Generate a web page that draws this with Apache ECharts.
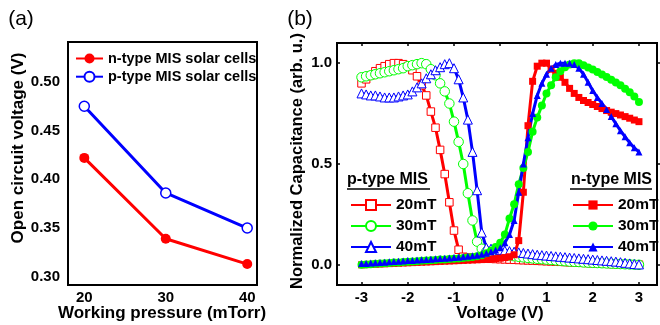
<!DOCTYPE html>
<html><head><meta charset="utf-8">
<script src="https://cdn.jsdelivr.net/npm/echarts@6/dist/echarts.min.js"></script>
<style>html,body{margin:0;padding:0;background:#fff}#c{width:660px;height:325px}</style>
</head><body><div id="c"></div>
<script>
// ---------- Panel (a) data ----------
const pressure = [20, 30, 40];
const vocN = [0.422, 0.339, 0.313];
const vocP = [0.475, 0.386, 0.350];
const pressureTicks = [20, 30, 40];
const vocTicks = [0.30, 0.35, 0.40, 0.45, 0.50];

// ---------- Panel (b) data ----------
const voltage = [-3.0,-2.9,-2.8,-2.7,-2.6,-2.5,-2.4,-2.3,-2.2,-2.1,
  -2.0,-1.9,-1.8,-1.7,-1.6,-1.5,-1.4,-1.3,-1.2,-1.1,
  -1.0,-0.9,-0.8,-0.7,-0.6,-0.5,-0.4,-0.3,-0.2,-0.1,
  0.0,0.1,0.2,0.3,0.4,0.5,0.6,0.7,0.8,0.9,
  1.0,1.1,1.2,1.3,1.4,1.5,1.6,1.7,1.8,1.9,
  2.0,2.1,2.2,2.3,2.4,2.5,2.6,2.7,2.8,2.9,3.0];
const voltageTicks = [-3, -2, -1, 0, 1, 2, 3];
const capTicks = [0, 0.5, 1.0];

const pType20 = [0.90,0.92,0.94,0.96,0.975,0.985,0.995,1.0,1.0,0.995,
  0.985,0.965,0.935,0.89,0.84,0.76,0.68,0.57,0.45,0.31,
  0.17,0.075,0.040,0.036,0.034,0.033,0.032,0.031,0.030,0.029,
  0.028,0.027,0.026,0.025,0.024,0.023,0.022,0.021,0.020,0.019,
  0.018,0.017,0.016,0.015,0.014,0.013,0.012,0.011,0.010,0.009,
  0.008,0.007,0.006,0.005,0.004,0.004,0.003,0.003,0.002,0.002,0.001];
const pType30 = [0.93,0.935,0.94,0.945,0.95,0.955,0.96,0.965,0.97,0.975,
  0.985,0.99,0.995,1.0,0.995,0.97,0.94,0.90,0.86,0.80,
  0.71,0.61,0.50,0.355,0.22,0.115,0.080,0.066,0.060,0.056,
  0.052,0.049,0.046,0.043,0.040,0.037,0.034,0.032,0.030,0.028,
  0.026,0.024,0.022,0.020,0.018,0.016,0.015,0.014,0.012,0.011,
  0.010,0.009,0.008,0.007,0.006,0.005,0.004,0.003,0.002,0.001,0.0];
const pType40 = [0.85,0.845,0.84,0.84,0.835,0.83,0.83,0.83,0.835,0.84,
  0.845,0.86,0.88,0.90,0.925,0.945,0.965,0.98,0.995,1.0,
  0.975,0.92,0.83,0.72,0.56,0.37,0.16,0.085,0.080,0.077,
  0.074,0.071,0.068,0.065,0.062,0.059,0.056,0.053,0.050,0.048,
  0.046,0.044,0.042,0.040,0.038,0.036,0.034,0.032,0.030,0.028,
  0.026,0.024,0.022,0.020,0.018,0.016,0.013,0.010,0.007,0.004,0.002];
const nType20 = [0.0,0.001,0.002,0.003,0.004,0.005,0.006,0.007,0.008,0.009,
  0.010,0.011,0.012,0.013,0.014,0.015,0.016,0.017,0.018,0.019,
  0.020,0.021,0.022,0.023,0.024,0.025,0.026,0.027,0.029,0.031,
  0.033,0.036,0.040,0.050,0.12,0.36,0.69,0.91,0.985,1.0,
  1.0,0.97,0.95,0.93,0.905,0.875,0.85,0.83,0.815,0.805,
  0.795,0.785,0.775,0.765,0.757,0.75,0.743,0.735,0.727,0.718,0.71];
const nType30 = [0.0,0.002,0.003,0.005,0.006,0.008,0.009,0.011,0.012,0.014,
  0.015,0.017,0.018,0.020,0.021,0.023,0.024,0.026,0.027,0.029,
  0.030,0.032,0.034,0.036,0.039,0.043,0.048,0.058,0.070,0.088,
  0.11,0.15,0.23,0.30,0.40,0.48,0.56,0.66,0.73,0.79,
  0.85,0.89,0.93,0.96,0.98,0.993,1.0,1.0,0.99,0.978,
  0.968,0.956,0.944,0.932,0.918,0.904,0.89,0.873,0.856,0.835,0.808];
const nType40 = [0.006,0.007,0.009,0.010,0.012,0.013,0.015,0.016,0.018,0.019,
  0.021,0.022,0.024,0.025,0.027,0.028,0.030,0.031,0.033,0.034,
  0.036,0.038,0.040,0.042,0.045,0.048,0.052,0.058,0.065,0.074,
  0.085,0.11,0.15,0.22,0.36,0.50,0.63,0.75,0.84,0.90,
  0.945,0.975,0.993,1.0,1.0,1.0,0.993,0.975,0.945,0.905,
  0.865,0.83,0.80,0.77,0.735,0.70,0.665,0.635,0.605,0.58,0.56];

const pLabels = ['p-type 20mT', 'p-type 30mT', 'p-type 40mT'];
const nLabels = ['n-type 20mT', 'n-type 30mT', 'n-type 40mT'];
const aLabels = ['n-type MIS solar cells', 'p-type MIS solar cells'];

function pairs(xs, ys) { return xs.map((x, i) => [x, ys[i]]); }

const FF = "'Liberation Sans', Arial, sans-serif";
const RED = '#ff0000', GREEN = '#00ff00', BLUE = '#0000ff';
const tickFont = {fontSize: 15, fontWeight: 'bold', color: '#000', fontFamily: FF};
const noLine = {show: false, onZero: false};

function openSeries(name, data, symbol, size, color) {
  return {type: 'line', name, xAxisIndex: 1, yAxisIndex: 1, data: pairs(voltage, data),
    symbol, symbolSize: size, showAllSymbol: true,
    lineStyle: {color, width: 3}, itemStyle: {color: '#fff', borderColor: color, borderWidth: 1}};
}
function filledSeries(name, data, symbol, size, color) {
  return {type: 'line', name, xAxisIndex: 1, yAxisIndex: 1, data: pairs(voltage, data),
    symbol, symbolSize: size, showAllSymbol: true,
    lineStyle: {color, width: 3}, itemStyle: {color, borderWidth: 0}};
}

const chart = echarts.init(document.getElementById('c'), null, {renderer: 'canvas'});
chart.setOption({
  animation: false,
  backgroundColor: '#fff',
  grid: [
    {left: 68, top: 42, width: 189, height: 243, show: true, borderColor: '#000', borderWidth: 2, containLabel: false},
    {left: 337, top: 43, width: 320, height: 242, show: true, borderColor: '#000', borderWidth: 2, containLabel: false}
  ],
  xAxis: [
    {gridIndex: 0, type: 'value', min: 18.0, max: 41.2,
      axisLine: noLine, splitLine: {show: false}, axisTick: {show: false},
      axisLabel: Object.assign({customValues: pressureTicks, margin: 5}, tickFont)},
    {gridIndex: 1, type: 'value', position: 'bottom', min: -3.53, max: 3.39,
      axisLine: noLine, splitLine: {show: false},
      axisTick: {show: true, inside: true, length: 3, customValues: voltageTicks, lineStyle: {color: '#000', width: 1.5}},
      axisLabel: Object.assign({customValues: voltageTicks, margin: 5}, tickFont)},
    {gridIndex: 1, type: 'value', position: 'top', min: -3.53, max: 3.39,
      axisLine: noLine, splitLine: {show: false},
      axisTick: {show: true, inside: true, length: 3, customValues: voltageTicks, lineStyle: {color: '#000', width: 1.5}},
      axisLabel: {show: false}}
  ],
  yAxis: [
    {gridIndex: 0, type: 'value', min: 0.2915, max: 0.541,
      axisLine: noLine, splitLine: {show: false}, axisTick: {show: false},
      axisLabel: Object.assign({customValues: vocTicks, margin: 8, formatter: v => v.toFixed(2)}, tickFont)},
    {gridIndex: 1, type: 'value', position: 'left', min: -0.1, max: 1.1,
      axisLine: noLine, splitLine: {show: false},
      axisTick: {show: true, inside: true, length: 3, customValues: capTicks, lineStyle: {color: '#000', width: 1.5}},
      axisLabel: Object.assign({customValues: capTicks, margin: 5, formatter: v => v.toFixed(1)}, tickFont)},
    {gridIndex: 1, type: 'value', position: 'right', min: -0.1, max: 1.1,
      axisLine: noLine, splitLine: {show: false},
      axisTick: {show: true, inside: false, length: 3, customValues: capTicks, lineStyle: {color: '#000', width: 1.5}},
      axisLabel: {show: false}}
  ],
  legend: [
    {orient: 'vertical', left: 70, top: 46, itemWidth: 27, itemHeight: 12.5, itemGap: 3.2,
      data: aLabels, textStyle: {fontSize: 14.5, fontWeight: 'bold', color: '#000', fontFamily: FF}},
    {orient: 'vertical', left: 345, top: 192, itemWidth: 40, itemHeight: 12.5, itemGap: 5,
      data: pLabels, formatter: n => n.replace('p-type ', ''),
      textStyle: {fontSize: 15.5, fontWeight: 'bold', color: '#000', fontFamily: FF}},
    {orient: 'vertical', left: 567, top: 192, itemWidth: 40, itemHeight: 11.5, itemGap: 5,
      data: nLabels, formatter: n => n.replace('n-type ', ''),
      textStyle: {fontSize: 15.5, fontWeight: 'bold', color: '#000', fontFamily: FF}}
  ],
  graphic: [
    {type: 'text', x: 21, y: 19, style: {text: '(a)', font: '21px ' + FF, fill: '#000', align: 'center', verticalAlign: 'middle'}},
    {type: 'text', x: 300, y: 19, style: {text: '(b)', font: '21px ' + FF, fill: '#000', align: 'center', verticalAlign: 'middle'}},
    {type: 'text', x: 18, y: 148, rotation: Math.PI / 2, style: {text: 'Open circuit voltage (V)', font: 'bold 17px ' + FF, fill: '#000', align: 'center', verticalAlign: 'middle'}},
    {type: 'text', x: 162, y: 313, style: {text: 'Working pressure (mTorr)', font: 'bold 17px ' + FF, fill: '#000', align: 'center', verticalAlign: 'middle'}},
    {type: 'text', x: 297, y: 161, rotation: Math.PI / 2, style: {text: 'Normalized Capacitance (arb. u.)', font: 'bold 16.5px ' + FF, fill: '#000', align: 'center', verticalAlign: 'middle'}},
    {type: 'text', x: 500, y: 313, style: {text: 'Voltage (V)', font: 'bold 17px ' + FF, fill: '#000', align: 'center', verticalAlign: 'middle'}},
    {type: 'text', x: 347, y: 180, style: {text: 'p-type MIS', font: 'bold 16px ' + FF, fill: '#000', align: 'left', verticalAlign: 'middle'}},
    {type: 'line', shape: {x1: 347, y1: 189, x2: 430, y2: 189}, style: {stroke: '#000', lineWidth: 1.5}},
    {type: 'text', x: 652, y: 180, style: {text: 'n-type MIS', font: 'bold 16px ' + FF, fill: '#000', align: 'right', verticalAlign: 'middle'}},
    {type: 'line', shape: {x1: 570, y1: 189, x2: 652, y2: 189}, style: {stroke: '#000', lineWidth: 1.5}}
  ],
  series: [
    {type: 'line', name: aLabels[0], xAxisIndex: 0, yAxisIndex: 0, data: pairs(pressure, vocN),
      symbol: 'circle', symbolSize: 10, lineStyle: {color: RED, width: 3}, itemStyle: {color: RED, borderWidth: 0}},
    {type: 'line', name: aLabels[1], xAxisIndex: 0, yAxisIndex: 0, data: pairs(pressure, vocP),
      symbol: 'circle', symbolSize: 10, lineStyle: {color: BLUE, width: 3}, itemStyle: {color: '#fff', borderColor: BLUE, borderWidth: 1.5}},
    openSeries(pLabels[0], pType20, 'rect', 7.5, RED),
    openSeries(pLabels[1], pType30, 'circle', 9.5, GREEN),
    openSeries(pLabels[2], pType40, 'triangle', 9, BLUE),
    filledSeries(nLabels[0], nType20, 'rect', 7, RED),
    filledSeries(nLabels[1], nType30, 'circle', 8, GREEN),
    filledSeries(nLabels[2], nType40, 'triangle', 7, BLUE)
  ]
});
</script></body></html>
